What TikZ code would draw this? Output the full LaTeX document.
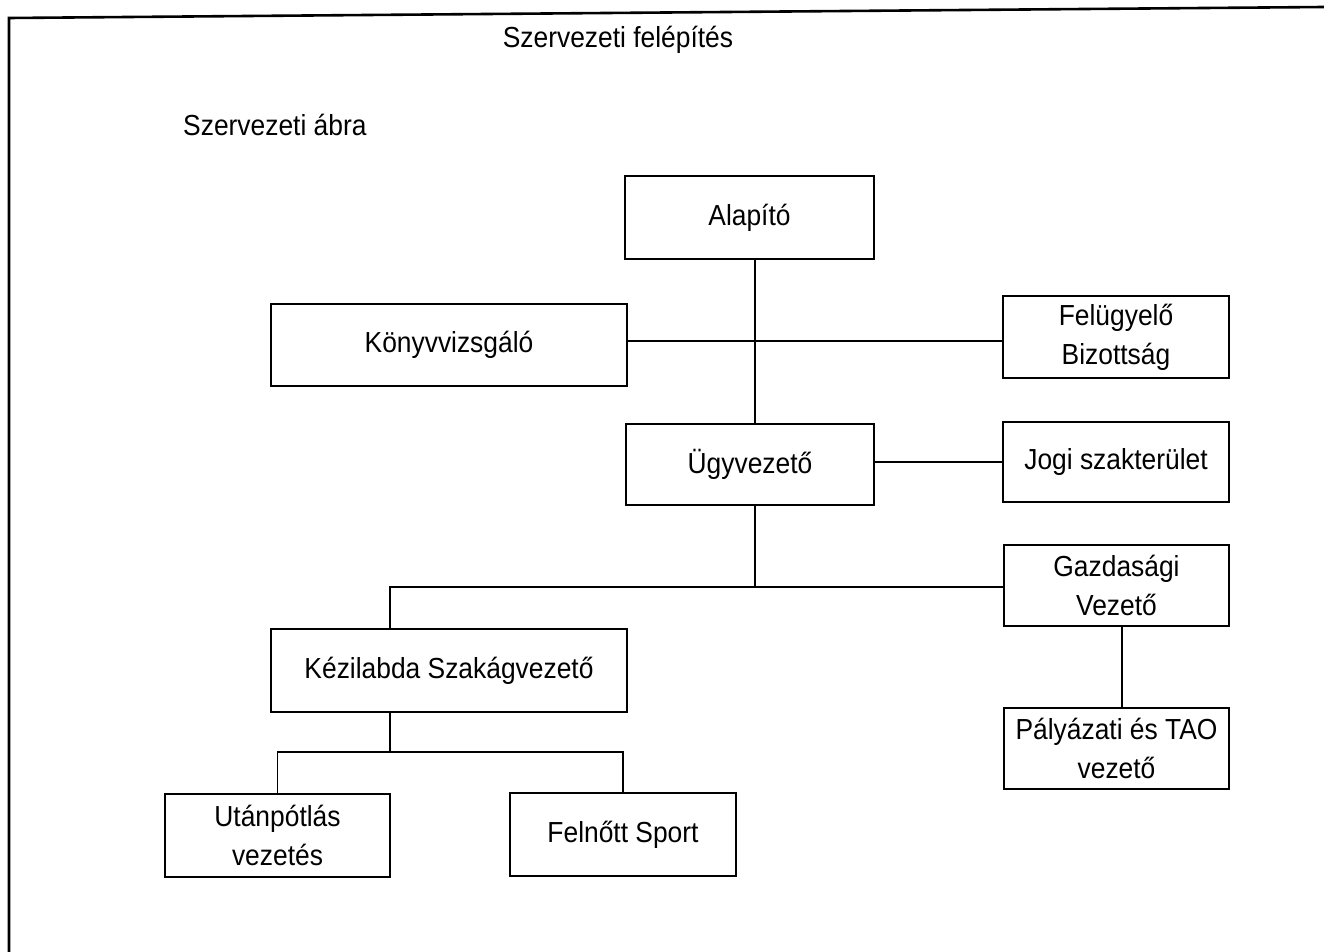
\documentclass[tikz,border=0pt]{standalone}
\usepackage{fontspec}
\setmainfont{Liberation Sans}[FakeStretch=0.91]
\begin{document}
\begin{tikzpicture}[x=1pt,y=-1pt,
  bx/.style={draw=black, line width=1.8pt, inner sep=0pt, outer sep=0pt,
    align=center, font=\fontsize{29}{39}\selectfont},
  lbl/.style={inner sep=0pt, font=\fontsize{29}{34}\selectfont},
  conn/.style={draw=black, line width=1.5pt},
  frame/.style={draw=black, line width=2.6pt}]
\useasboundingbox (0,0) rectangle (1324,952);
% frame
\coordinate (fa) at (9,952);
\coordinate (fb) at (9,18);
\coordinate (fc) at (1324,7);
\draw[frame] (fa) -- (fb) -- (fc);
% texts
\node[lbl, anchor=base] (title) at (618,48) {Szervezeti felépítés};
\node[lbl, anchor=base west] (sub) at (183,136) {Szervezeti ábra};
% boxes
\node[bx, minimum width=249pt, minimum height=83pt] (alap) at (749.5,217.5) {Alapító};
\node[bx, minimum width=356pt, minimum height=82pt] (konyv) at (449,345) {Könyvvizsgáló};
\node[bx, minimum width=226pt, minimum height=82pt] (felugy) at (1116,337) {Felügyelő\\Bizottság};
\node[bx, minimum width=248pt, minimum height=81pt] (ugyv) at (750,464.5) {Ügyvezető};
\node[bx, minimum width=226pt, minimum height=80pt] (jogi) at (1116,462) {Jogi szakterület};
\node[bx, minimum width=225pt, minimum height=81pt] (gazd) at (1116.5,585.5) {Gazdasági\\Vezető};
\node[bx, minimum width=356pt, minimum height=83pt] (kezi) at (449,670.5) {Kézilabda Szakágvezető};
\node[bx, minimum width=225pt, minimum height=81pt] (palya) at (1116.5,748.5) {Pályázati és TAO\\vezető};
\node[bx, minimum width=225pt, minimum height=83pt] (utan) at (277.5,835.5) {Utánpótlás\\vezetés};
\node[bx, minimum width=226pt, minimum height=83pt] (feln) at (623,834.5) {Felnőtt Sport};
% helper coordinates
\coordinate (trunk) at (755,0);
\coordinate (hk) at (0,341);
\coordinate (bus) at (0,587);
\coordinate (kx) at (390,0);
\coordinate (gx) at (1122,0);
\coordinate (bustwo) at (0,752);
% connectors
\draw[conn] (alap.south -| trunk) -- (ugyv.north -| trunk);
\draw[conn] (konyv.east |- hk) -- (felugy.west |- hk);
\draw[conn] (ugyv.east |- jogi.west) -- (jogi.west);
\draw[conn] (ugyv.south -| trunk) -- (trunk |- bus);
\draw[conn] (gazd.west |- bus) -- (kx |- bus) -- (kezi.north -| kx);
\draw[conn] (gazd.south -| gx) -- (palya.north -| gx);
\draw[conn] (kezi.south -| kx) -- (kx |- bustwo);
\draw[conn] (utan.north) -- (utan.north |- bustwo) -| (feln.north);
\end{tikzpicture}
\end{document}
